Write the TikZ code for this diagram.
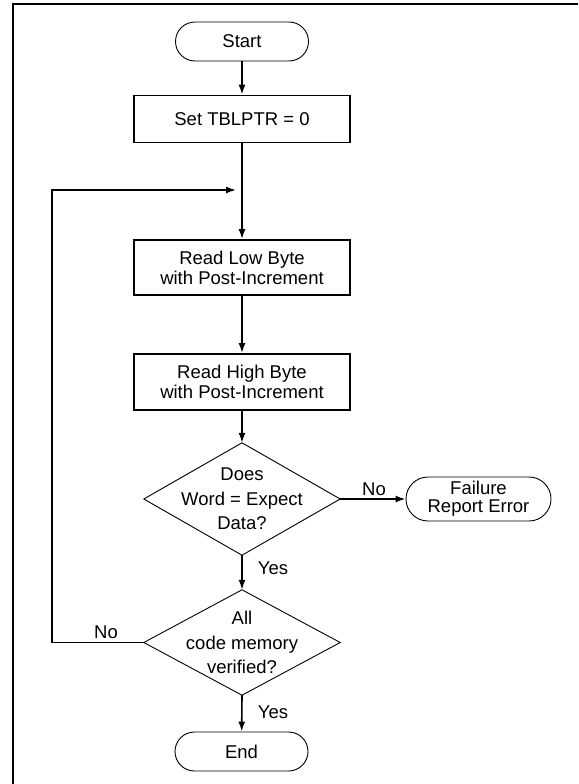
\documentclass[tikz,border=0pt]{standalone}
\usepackage{fontspec}
\setmainfont{Liberation Sans}
\usetikzlibrary{arrows.meta}
\begin{document}
\begin{tikzpicture}[x=1pt,y=-1pt,
  every node/.style={font=\fontsize{18.5}{20}\selectfont, align=center, inner sep=0pt},
  procbox/.style={draw, line width=1.8pt, minimum width=216pt, minimum height=#1},
  termbox/.style={draw, line width=0.9pt, minimum width=#1, minimum height=39pt, rounded corners=19.5pt},
  dectext/.style={font=\fontsize{18.5}{24.5}\selectfont, minimum width=196pt},
  decline/.style={line width=0.9pt},
  arr/.style={line width=1.6pt, -{Latex[length=10pt,width=7pt]}},
  lbl/.style={font=\fontsize{18.5}{20}\selectfont}]
\useasboundingbox (0,0) rectangle (578,784);
% frame (top and left edges only)
\coordinate (fa) at (578,4.5);
\coordinate (fb) at (13,4.5);
\coordinate (fc) at (13,784);
\draw[line width=2pt] (fa) -- (fb) -- (fc);

\node[termbox=133pt] (start) at (242,41.5) {Start};
\node[procbox=47pt] (set) at (242,119) {Set TBLPTR = 0};
\node[procbox=55pt] (low) at (242,267.5) {Read Low Byte\\with Post-Increment};
\node[procbox=56pt] (high) at (242,382) {Read High Byte\\with Post-Increment};
\node[dectext, minimum height=112pt] (d1) at (242,499) {Does\\Word = Expect\\Data?};
\draw[decline] (d1.north) -- (d1.east) -- (d1.south) -- (d1.west) -- cycle;
\node[draw, line width=0.9pt, minimum width=145pt, minimum height=44pt, rounded corners=22pt,
      font=\fontsize{18.5}{18}\selectfont] (fail) at (478.5,499) {Failure\\Report Error};
\node[dectext, minimum height=105pt] (d2) at (242,642.5) {All\\code memory\\verified?};
\draw[decline] (d2.north) -- (d2.east) -- (d2.south) -- (d2.west) -- cycle;
\node[termbox=133pt] (end) at (241.5,751.5) {End};

% connectors
\draw[arr] (start) -- (set);
\draw[arr] (set) -- (low);
\draw[arr] (low) -- (high);
\draw[arr] (high) -- (d1.north);
\draw[arr] (d1.east) -- (fail.west);
\draw[arr] (d1.south) -- (d2.north);
\draw[arr] (d2.south) -- (end);
\coordinate (lc) at (52,642.5);
\coordinate (lt) at (52,190);
\coordinate (mp) at (236,190);
\draw[arr] (d2.west) -- (lc) -- (lt) -- (mp);

% labels
\node[lbl] (no1) at (374,489) {No};
\node[lbl] (yes1) at (273,568) {Yes};
\node[lbl] (yes2) at (273,712) {Yes};
\node[lbl] (no2) at (106,632) {No};
\end{tikzpicture}
\end{document}
